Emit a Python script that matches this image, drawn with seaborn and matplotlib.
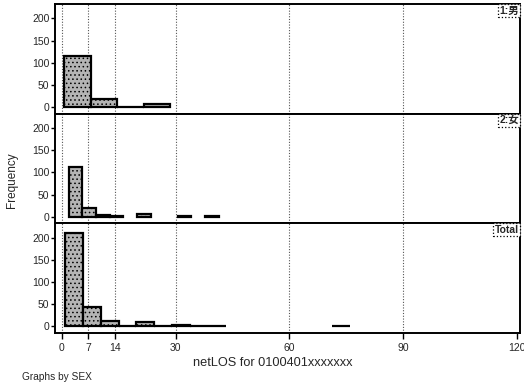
import numpy as np
import pandas as pd
import seaborn as sns
import matplotlib
matplotlib.use("Agg")
import matplotlib.pyplot as plt

# bin edges and frequencies
panel_labels = ["1:男", "2:女", "Total"]

male_edges = [0.6, 7.6, 14.6, 21.6, 28.6]
male_counts = [116, 19, 1, 6]

female_edges = [1.8, 5.4, 9.0, 12.6, 16.2, 19.8, 23.4, 27.0, 30.6, 34.2, 37.8, 41.4]
female_counts = [112, 20, 3, 2, 0, 7, 0, 0, 2, 0, 2]

total_edges = [0.9, 5.6, 10.3, 15.0, 19.7, 24.4, 29.1, 33.8, 38.5, 43.2,
               47.9, 52.6, 57.3, 62.0, 66.7, 71.4, 76.1]
total_counts = [210, 43, 13, 1, 10, 1, 2, 1, 1, 0, 0, 0, 0, 0, 0, 1]

ref_lines = [0, 7, 14, 30, 60, 90]
x_ticks = [0, 7, 14, 30, 60, 90, 120]
y_ticks = [0, 50, 100, 150, 200]

sns.set_theme(style="white")
plt.rcParams["font.family"] = ["Liberation Sans", "Noto Sans CJK JP", "DejaVu Sans"]
plt.rcParams["hatch.linewidth"] = 0.6

fig, axes = plt.subplots(3, 1, figsize=(5.24, 3.89), dpi=100, sharex=True)
fig.subplots_adjust(left=0.105, right=0.993, top=0.99, bottom=0.144, hspace=0)

panels = [(male_edges, male_counts), (female_edges, female_counts), (total_edges, total_counts)]
for ax, (edges, counts), lab in zip(axes, panels, panel_labels):
    e = np.array(edges)
    centers = (e[:-1] + e[1:]) / 2
    df = pd.DataFrame({"netLOS": centers, "freq": counts})
    sns.histplot(data=df, x="netLOS", weights="freq", bins=list(edges), ax=ax,
                 color="#b4b4b4", edgecolor="black", linewidth=1.6, alpha=1,
                 hatch="....")
    # empty bins are not drawn in the original
    for p in ax.patches:
        if p.get_height() == 0:
            p.set_visible(False)
    for v in ref_lines:
        ax.axvline(v, color="#555555", linestyle=(0, (1, 1.5)), linewidth=0.8, zorder=0)
    ax.set_xlim(-1.8, 121)
    ax.set_ylim(-15, 233)
    ax.set_yticks(y_ticks)
    ax.set_ylabel("")
    ax.set_xlabel("")
    ax.tick_params(axis="y", labelsize=7.5, length=3, width=1, left=True, color="black", pad=1)
    for s in ax.spines.values():
        s.set_color("black")
        s.set_linewidth(1.4)
    ax.text(0.997, 0.985, lab, transform=ax.transAxes, ha="right", va="top",
            fontsize=7.5, fontweight="bold",
            bbox=dict(boxstyle="square,pad=0.15", facecolor="white",
                      edgecolor="black", linestyle=":", linewidth=0.9))

axes[-1].set_xticks(x_ticks)
axes[-1].tick_params(axis="x", labelsize=7.5, length=4, width=1, bottom=True, color="black", pad=3)

fig.text(0.023, 0.537, "Frequency", rotation=90, ha="center", va="center", fontsize=8.5)
fig.text(0.52, 0.068, "netLOS for 0100401xxxxxxx", ha="center", va="center", fontsize=9.2)
fig.text(0.042, 0.031, "Graphs by SEX", ha="left", va="center", fontsize=7.3)

fig.savefig("out.png", dpi=100)
